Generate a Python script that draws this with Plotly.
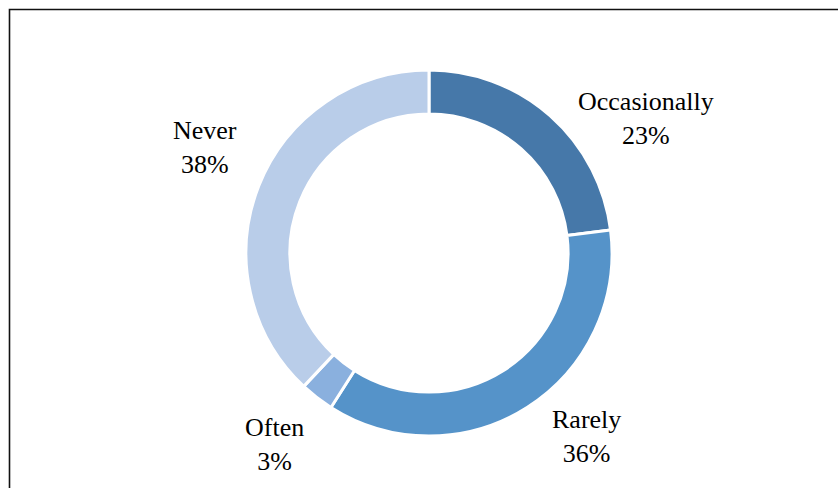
import plotly.graph_objects as go

categories = ["Occasionally", "Rarely", "Often", "Never"]
values = [23, 36, 3, 38]
colors = ["#4678A9", "#5593C9", "#8AB0DE", "#B9CDE9"]

# label centres in pixels (x from left, y from top)
label_px = [(646, 118), (586, 436), (274, 444), (205, 147)]

W, H = 838, 488
cx, cy, R = 429, 253, 183

fig = go.Figure(go.Pie(
    labels=categories,
    values=values,
    sort=False,
    direction="clockwise",
    rotation=0,
    hole=0.76,
    marker=dict(colors=colors, line=dict(color="white", width=3)),
    textinfo="none",
    hoverinfo="label+percent",
    showlegend=False,
    domain=dict(x=[(cx - R) / W, (cx + R) / W],
                y=[(H - cy - R) / H, (H - cy + R) / H]),
))

total = sum(values)
for cat, v, (px, py) in zip(categories, values, label_px):
    fig.add_annotation(
        x=px / W, y=1 - py / H, xref="paper", yref="paper",
        text=f"{cat}<br>{round(100 * v / total)}%",
        showarrow=False, xanchor="center", yanchor="middle",
        font=dict(family="Liberation Serif", size=26, color="#000000"),
    )

fig.add_shape(type="rect", xref="paper", yref="paper",
              x0=9.5 / W, x1=1.05, y0=-0.05, y1=1 - 9.5 / H,
              line=dict(color="#111111", width=1.6))

fig.update_layout(
    width=W, height=H,
    margin=dict(l=0, r=0, t=0, b=0),
    paper_bgcolor="white", plot_bgcolor="white",
)

fig.write_html("out.html")
